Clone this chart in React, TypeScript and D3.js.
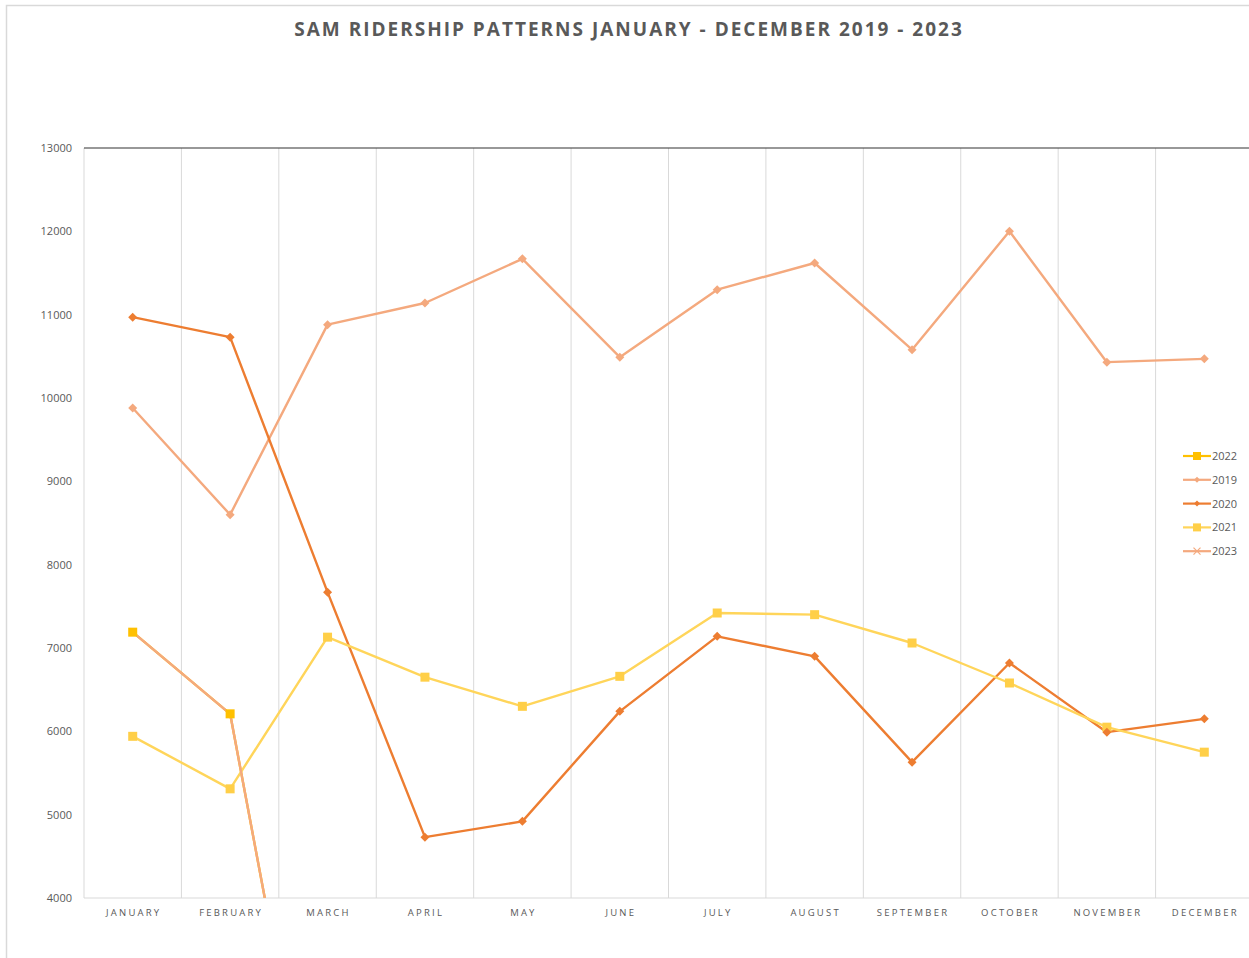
import React from "react";
import * as d3 from "d3";

// months on the x axis
const months = [
  "JANUARY", "FEBRUARY", "MARCH", "APRIL", "MAY", "JUNE",
  "JULY", "AUGUST", "SEPTEMBER", "OCTOBER", "NOVEMBER", "DECEMBER",
];

const yTicks = [4000, 5000, 6000, 7000, 8000, 9000, 10000, 11000, 12000, 13000];

// ridership per month
const y2019 = [9880, 8600, 10880, 11140, 11670, 10490, 11300, 11620, 10580, 12000, 10430, 10470];
const y2020 = [10970, 10730, 7670, 4730, 4920, 6240, 7140, 6900, 5630, 6820, 5990, 6150];
const y2021 = [5940, 5310, 7130, 6650, 6300, 6660, 7420, 7400, 7060, 6580, 6050, 5750];
const y2022 = [7190, 6210, 0];
const y2023 = [7190, 6210, 0];

const series = [
  { name: "2022", values: y2022, line: "#FFC000", marker: "#FFC000", shape: "square" },
  { name: "2019", values: y2019, line: "#F4A97E", marker: "#F4A97E", shape: "diamond" },
  { name: "2020", values: y2020, line: "#ED7D31", marker: "#ED7D31", shape: "diamond" },
  { name: "2021", values: y2021, line: "#FFD55A", marker: "#FFCF48", shape: "square" },
  { name: "2023", values: y2023, line: "#F4A97E", marker: "#F4A97E", shape: "cross" },
];

const W = 1249;
const H = 958;
const left = 84;
const right = 1253;
const top = 148;
const bottom = 898;

const Marker = ({ shape, x, y, color, legend = false }) => {
  if (shape === "square") {
    const s = legend ? 8 : 9;
    return <rect x={x - s / 2} y={y - s / 2} width={s} height={s} fill={color} />;
  }
  if (shape === "diamond") {
    const s = legend ? 3 : 4.5;
    return <path d={`M${x},${y - s}L${x + s},${y}L${x},${y + s}L${x - s},${y}Z`} fill={color} />;
  }
  const s = 3.5;
  return (
    <path d={`M${x - s},${y - s}L${x + s},${y + s}M${x - s},${y + s}L${x + s},${y - s}`}
      stroke={color} strokeWidth={1.2} fill="none" />
  );
};

export default function App() {
  const x = d3.scaleBand().domain(months).range([left, right]);
  const y = d3.scaleLinear().domain([4000, 13000]).range([bottom, top]);
  const cx = (m) => x(m) + x.bandwidth() / 2;

  const line = d3
    .line<number>()
    .x((_, i) => cx(months[i]))
    .y((d) => y(d));

  const grid = months.slice(1).map((m) => x(m));

  return (
    <svg width={W} height={H} style={{ position: "absolute", left: 0, top: 0, background: "#fff" }}
      fontFamily="'Open Sans', 'Liberation Sans', sans-serif">
      <defs>
        <clipPath id="plot">
          <rect x={left} y={top - 10} width={right - left} height={bottom - top + 10} />
        </clipPath>
      </defs>
      {/* chart frame */}
      <path d={`M6.5,${H}V5.5H${W}`} stroke="#d9d9d9" strokeWidth={1.5} fill="none" />

      <text x={629} y={36} textAnchor="middle" fontSize={19} fontWeight="bold" fill="#595959"
        letterSpacing={2}>
        SAM RIDERSHIP PATTERNS JANUARY - DECEMBER 2019 - 2023
      </text>

      {/* vertical gridlines */}
      {grid.map((g) => (
        <line key={g} x1={g} x2={g} y1={top} y2={bottom} stroke="#d9d9d9" strokeWidth={1} />
      ))}
      <line x1={left} x2={left} y1={top} y2={bottom} stroke="#d9d9d9" />
      <line x1={left} x2={W} y1={bottom} y2={bottom} stroke="#d9d9d9" />
      <line x1={left} x2={W} y1={y(13000)} y2={y(13000)} stroke="#333" strokeWidth={1.2} />

      {yTicks.map((t) => (
        <text key={t} x={72} y={y(t) + 4} textAnchor="end" fontSize={11} fill="#595959">
          {t}
        </text>
      ))}
      {months.map((m) => (
        <text key={m} x={cx(m) + 1} y={916} textAnchor="middle" fontSize={9.5} fill="#595959"
          letterSpacing={2.2}>
          {m}
        </text>
      ))}

      <g clipPath="url(#plot)">
        {series.map((s) => (
          <path key={s.name} d={line(s.values)} fill="none" stroke={s.line} strokeWidth={2.4}
            strokeLinejoin="round" />
        ))}
        {[...series].reverse().map((s) =>
          s.values.map((v, i) => (
            <Marker key={s.name + i} shape={s.shape} x={cx(months[i])} y={y(v)} color={s.marker} />
          ))
        )}
      </g>

      {/* legend */}
      {series.map((s, i) => {
        const ly = 456 + i * 23.8;
        return (
          <g key={s.name}>
            <line x1={1183} x2={1211} y1={ly} y2={ly} stroke={s.line} strokeWidth={2.2} />
            <Marker shape={s.shape} x={1197} y={ly} color={s.marker} legend />
            <text x={1212} y={ly + 4} fontSize={11} fill="#595959">{s.name}</text>
          </g>
        );
      })}
    </svg>
  );
}
